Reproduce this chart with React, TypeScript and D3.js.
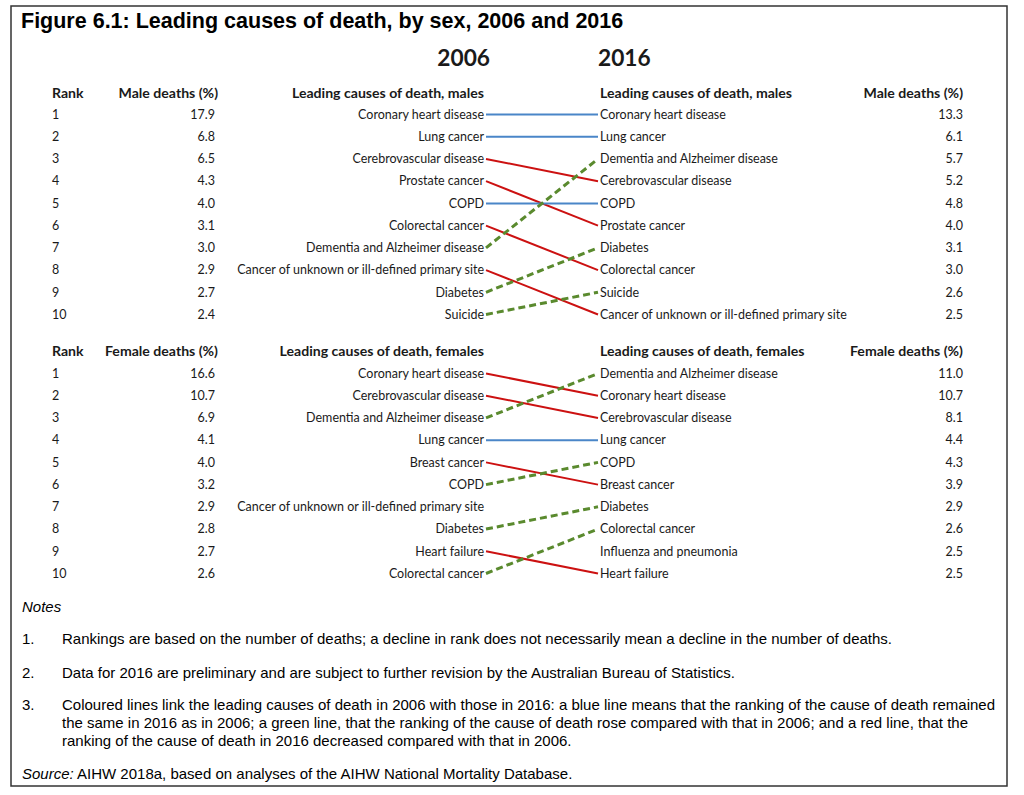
import React from "react";
import * as d3 from "d3";

const ranks = [1, 2, 3, 4, 5, 6, 7, 8, 9, 10];

const male2006Causes = [
  "Coronary heart disease",
  "Lung cancer",
  "Cerebrovascular disease",
  "Prostate cancer",
  "COPD",
  "Colorectal cancer",
  "Dementia and Alzheimer disease",
  "Cancer of unknown or ill-defined primary site",
  "Diabetes",
  "Suicide",
];
const male2006Pct = [17.9, 6.8, 6.5, 4.3, 4.0, 3.1, 3.0, 2.9, 2.7, 2.4];

const male2016Causes = [
  "Coronary heart disease",
  "Lung cancer",
  "Dementia and Alzheimer disease",
  "Cerebrovascular disease",
  "COPD",
  "Prostate cancer",
  "Diabetes",
  "Colorectal cancer",
  "Suicide",
  "Cancer of unknown or ill-defined primary site",
];
const male2016Pct = [13.3, 6.1, 5.7, 5.2, 4.8, 4.0, 3.1, 3.0, 2.6, 2.5];

const female2006Causes = [
  "Coronary heart disease",
  "Cerebrovascular disease",
  "Dementia and Alzheimer disease",
  "Lung cancer",
  "Breast cancer",
  "COPD",
  "Cancer of unknown or ill-defined primary site",
  "Diabetes",
  "Heart failure",
  "Colorectal cancer",
];
const female2006Pct = [16.6, 10.7, 6.9, 4.1, 4.0, 3.2, 2.9, 2.8, 2.7, 2.6];

const female2016Causes = [
  "Dementia and Alzheimer disease",
  "Coronary heart disease",
  "Cerebrovascular disease",
  "Lung cancer",
  "COPD",
  "Breast cancer",
  "Diabetes",
  "Colorectal cancer",
  "Influenza and pneumonia",
  "Heart failure",
];
const female2016Pct = [11.0, 10.7, 8.1, 4.4, 4.3, 3.9, 2.9, 2.6, 2.5, 2.5];

const notes = [
  "Rankings are based on the number of deaths; a decline in rank does not necessarily mean a decline in the number of deaths.",
  "Data for 2016 are preliminary and are subject to further revision by the Australian Bureau of Statistics.",
];
const note3Lines = [
  "Coloured lines link the leading causes of death in 2006 with those in 2016: a blue line means that the ranking of the cause of death remained",
  "the same in 2016 as in 2006; a green line, that the ranking of the cause of death rose compared with that in 2006; and a red line, that the",
  "ranking of the cause of death in 2016 decreased compared with that in 2006.",
];

const FONT = "Lato, 'Open Sans', sans-serif";
const ARIAL = "'Liberation Sans', Arial, sans-serif";
const TXT = "#1a1a1a";
const BLUE = "#4a86c8";
const RED = "#cc1111";
const GREEN = "#5a8a2e";
const fmt = d3.format(".1f");
const SX = 0.905;

function SText({ x, y, anchor, children }: { x: number; y: number; anchor?: string; children: React.ReactNode }) {
  return (
    <text transform={`translate(${x},${y}) scale(${SX},1)`} dy="0.35em" textAnchor={anchor}>
      {children}
    </text>
  );
}

type PanelProps = {
  sexLabel: string;
  pctLabel: string;
  c06: string[];
  p06: number[];
  c16: string[];
  p16: number[];
  headerY: number;
  y0: number;
  y1: number;
};

function Panel({ sexLabel, pctLabel, c06, p06, c16, p16, headerY, y0, y1 }: PanelProps) {
  const y = d3.scaleLinear().domain([1, 10]).range([y0, y1]);
  const xRank = 52;
  const xPct = 215;
  const xLeft = 484;
  const xRight = 600;
  const xPct2 = 963;
  const lx0 = 486;
  const lx1 = 598;
  const links = c06
    .map((c, i) => ({ c, r0: i + 1, r1: c16.indexOf(c) + 1 }))
    .filter((d) => d.r1 > 0);
  return (
    <g>
      <g fontFamily={FONT} fontWeight={700} fontSize={14.1} fill={TXT}>
        <text x={xRank} y={headerY} dy="0.35em">Rank</text>
        <text x={xPct + 3} y={headerY} dy="0.35em" textAnchor="end">{pctLabel}</text>
        <text x={xLeft} y={headerY} dy="0.35em" textAnchor="end">{`Leading causes of death, ${sexLabel}`}</text>
        <text x={xRight} y={headerY} dy="0.35em">{`Leading causes of death, ${sexLabel}`}</text>
        <text x={xPct2} y={headerY} dy="0.35em" textAnchor="end">{pctLabel}</text>
      </g>
      {links.map((d) => {
        const color = d.r1 === d.r0 ? BLUE : d.r1 < d.r0 ? GREEN : RED;
        const dashed = d.r1 < d.r0;
        return (
          <line
            key={d.c}
            x1={lx0}
            x2={lx1}
            y1={y(d.r0) + 0.5}
            y2={y(d.r1) + 0.5}
            stroke={color}
            strokeWidth={dashed ? 3 : 2}
            strokeDasharray={dashed ? "7,4" : undefined}
          />
        );
      })}
      <g fontFamily={FONT} fontSize={13.8} fill={TXT}>
        {ranks.map((r, i) => (
          <g key={r}>
            <SText x={xRank} y={y(r)}>{r}</SText>
            <SText x={xPct} y={y(r)} anchor="end">{fmt(p06[i])}</SText>
            <SText x={xLeft} y={y(r)} anchor="end">{c06[i]}</SText>
            <SText x={xRight} y={y(r)}>{c16[i]}</SText>
            <SText x={xPct2} y={y(r)} anchor="end">{fmt(p16[i])}</SText>
          </g>
        ))}
      </g>
    </g>
  );
}

export default function App() {
  const W = 1024;
  const H = 795;
  return (
    <svg
      width={W}
      height={H}
      style={{ position: "absolute", left: 0, top: 0 }}
      xmlns="http://www.w3.org/2000/svg"
    >
      <rect x={0} y={0} width={W} height={H} fill="#fff" />
      <rect x={11} y={6} width={996} height={780} fill="none" stroke="#333" strokeWidth={1.5} />
      <text
        x={21}
        y={28}
        fontFamily="'Liberation Sans', Arial, sans-serif"
        fontWeight={700}
        fontSize={21.5}
        fill="#000"
      >
        Figure 6.1: Leading causes of death, by sex, 2006 and 2016
      </text>
      <g fontFamily={FONT} fontWeight={700} fontSize={22.7} fill={TXT}>
        <text x={490} y={66} textAnchor="end">2006</text>
        <text x={598} y={66}>2016</text>
      </g>
      <Panel
        sexLabel="males"
        pctLabel="Male deaths (%)"
        c06={male2006Causes}
        p06={male2006Pct}
        c16={male2016Causes}
        p16={male2016Pct}
        headerY={93}
        y0={114}
        y1={314}
      />
      <Panel
        sexLabel="females"
        pctLabel="Female deaths (%)"
        c06={female2006Causes}
        p06={female2006Pct}
        c16={female2016Causes}
        p16={female2016Pct}
        headerY={351}
        y0={373}
        y1={573}
      />
      <g fontFamily={ARIAL} fontSize={15} fill="#000">
        <text x={22} y={612} fontStyle="italic">Notes</text>
        <text x={22} y={644}>1.</text>
        <text x={62} y={644} textLength={830} lengthAdjust="spacingAndGlyphs">{notes[0]}</text>
        <text x={22} y={678}>2.</text>
        <text x={62} y={678} textLength={673} lengthAdjust="spacingAndGlyphs">{notes[1]}</text>
        <text x={22} y={710}>3.</text>
        <text x={62} y={710} textLength={933} lengthAdjust="spacingAndGlyphs">{note3Lines[0]}</text>
        <text x={62} y={728} textLength={906} lengthAdjust="spacingAndGlyphs">{note3Lines[1]}</text>
        <text x={62} y={746}>{note3Lines[2]}</text>
        <text x={22} y={779}>
          <tspan fontStyle="italic">Source:</tspan> AIHW 2018a, based on analyses of the AIHW National Mortality Database.
        </text>
      </g>
    </svg>
  );
}
